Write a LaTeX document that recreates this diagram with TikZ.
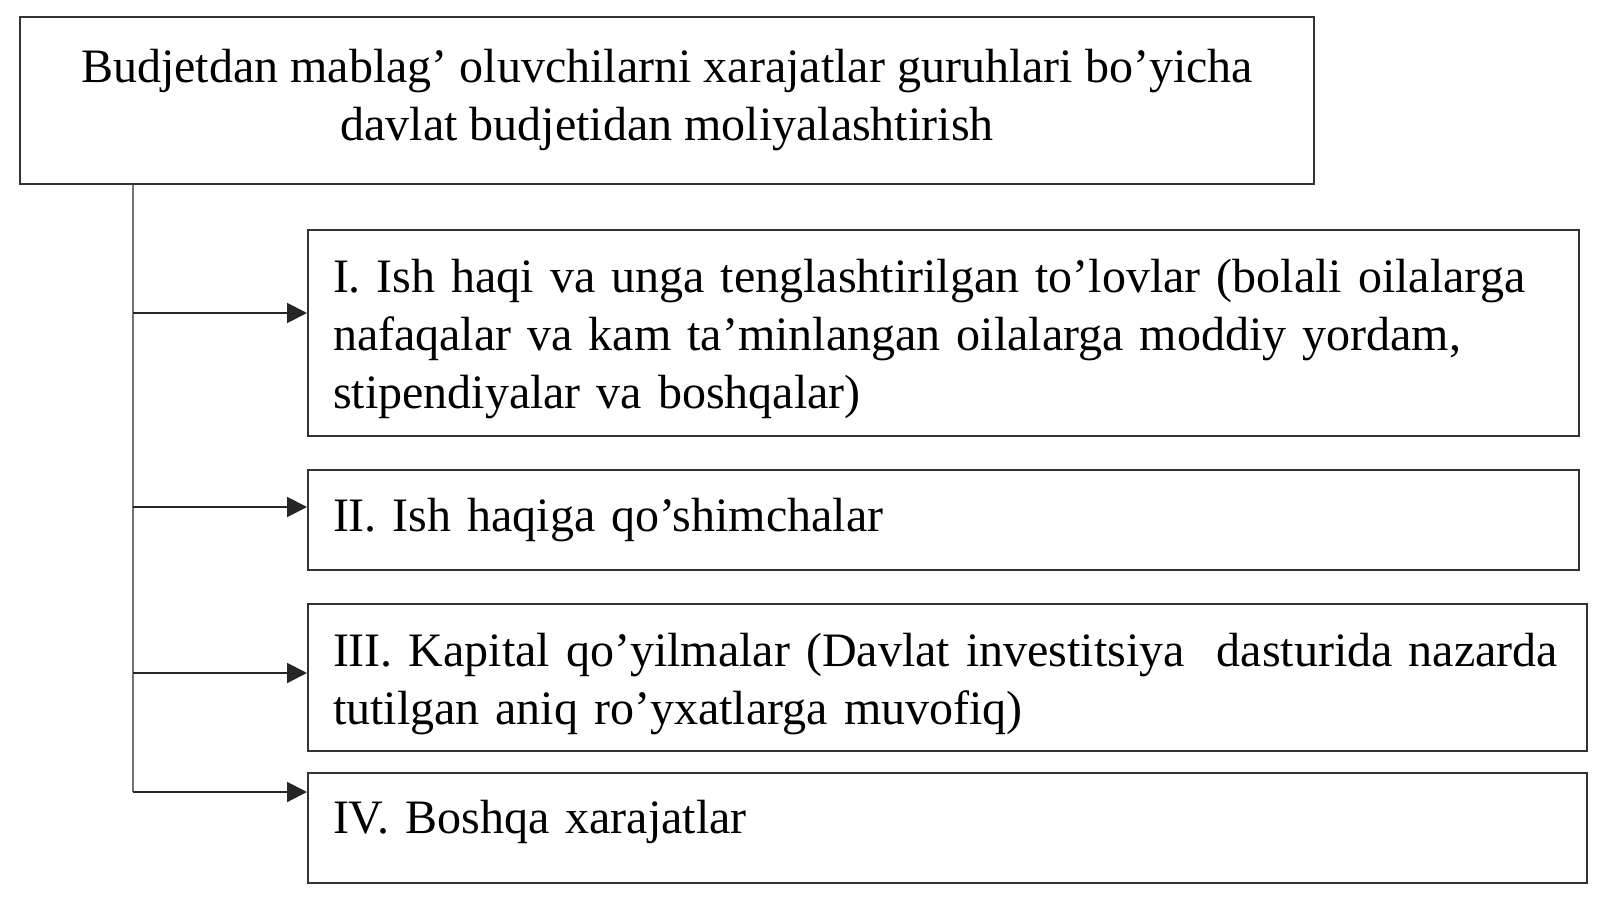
\documentclass[tikz,border=0pt]{standalone}
\usepackage{fontspec}
\setmainfont{Liberation Serif}
\usetikzlibrary{positioning,arrows.meta}

\begin{document}
\begin{tikzpicture}[
            x=0.5pt, y=-0.5pt,
            headbox/.style={rectangle, draw=black!80, line width=1pt, align=center, font=\fontsize{24pt}{29pt}\selectfont, minimum width=647pt, minimum height=83.5pt},
            groupbox/.style={rectangle, draw=black!80, line width=1pt, align=left, font=\fontsize{24pt}{29pt}\selectfont, inner xsep=12.5pt, text width=610.5pt},
            spine/.style={draw=black!55, line width=0.8pt},
            branch/.style={draw=black!85, line width=1pt, -{Triangle[length=10pt,width=10pt]}},
        ]
        \useasboundingbox (0,0) rectangle (1600,899);

        \node[headbox, anchor=north west] (top) at (19,16) {Budjetdan mablag’ oluvchilarni xarajatlar guruhlari bo’yicha\\davlat budjetidan moliyalashtirish};

        \node[groupbox, anchor=north west, minimum height=103pt, text height=23pt] (g1) at (307,229) {I. Ish haqi va unga tenglashtirilgan to’lovlar (bolali oilalarga\\nafaqalar va kam ta’minlangan oilalarga moddiy yordam,\\stipendiyalar va boshqalar)};
        \node[groupbox, minimum height=50pt] (g2) [below=16pt of g1.south west, anchor=north west] {II. Ish haqiga qo’shimchalar};
        \node[groupbox, minimum height=73.5pt, text width=614.5pt, text height=23pt] (g3) [below=16pt of g2.south west, anchor=north west] {III. Kapital qo’yilmalar (Davlat investitsiya\ \ dasturida nazarda\\tutilgan aniq ro’yxatlarga muvofiq)};
        \node[groupbox, minimum height=55pt, text width=614.5pt, text depth=11pt] (g4) [below=10pt of g3.south west, anchor=north west] {IV. Boshqa xarajatlar};

        \coordinate (sp1) at (133,313);
        \coordinate (sp2) at (133,507);
        \coordinate (sp3) at (133,673);
        \coordinate (sp4) at (133,792);

        \draw[spine] (top.south -| sp1) -- (sp4);
        \draw[branch] (sp1) -- (sp1 -| g1.west);
        \draw[branch] (sp2) -- (sp2 -| g2.west);
        \draw[branch] (sp3) -- (sp3 -| g3.west);
        \draw[branch] (sp4) -- (sp4 -| g4.west);

    \end{tikzpicture}
\end{document}
